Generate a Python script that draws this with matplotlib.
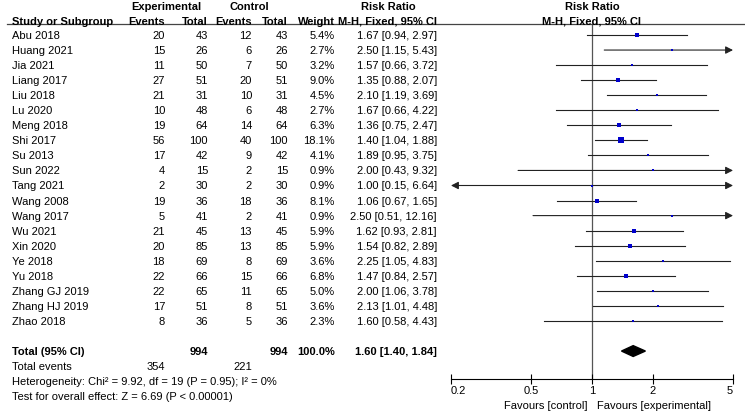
import matplotlib.pyplot as plt
import matplotlib.transforms as mtransforms
from matplotlib.patches import Polygon

plt.rcParams['font.family'] = ['Liberation Sans', 'DejaVu Sans']
plt.rcParams['font.size'] = 8

# Data
studies = ['Abu 2018', 'Huang 2021', 'Jia 2021', 'Liang 2017', 'Liu 2018', 'Lu 2020',
           'Meng 2018', 'Shi 2017', 'Su 2013', 'Sun 2022', 'Tang 2021', 'Wang 2008',
           'Wang 2017', 'Wu 2021', 'Xin 2020', 'Ye 2018', 'Yu 2018', 'Zhang GJ 2019',
           'Zhang HJ 2019', 'Zhao 2018']
exp_events = [20, 15, 11, 27, 21, 10, 19, 56, 17, 4, 2, 19, 5, 21, 20, 18, 22, 22, 17, 8]
exp_total = [43, 26, 50, 51, 31, 48, 64, 100, 42, 15, 30, 36, 41, 45, 85, 69, 66, 65, 51, 36]
ctl_events = [12, 6, 7, 20, 10, 6, 14, 40, 9, 2, 2, 18, 2, 13, 13, 8, 15, 11, 8, 5]
ctl_total = [43, 26, 50, 51, 31, 48, 64, 100, 42, 15, 30, 36, 41, 45, 85, 69, 66, 65, 51, 36]
weights = [5.4, 2.7, 3.2, 9.0, 4.5, 2.7, 6.3, 18.1, 4.1, 0.9, 0.9, 8.1, 0.9, 5.9, 5.9,
           3.6, 6.8, 5.0, 3.6, 2.3]
rr = [1.67, 2.50, 1.57, 1.35, 2.10, 1.67, 1.36, 1.40, 1.89, 2.00, 1.00, 1.06, 2.50,
      1.62, 1.54, 2.25, 1.47, 2.00, 2.13, 1.60]
rr_lo = [0.94, 1.15, 0.66, 0.88, 1.19, 0.66, 0.75, 1.04, 0.95, 0.43, 0.15, 0.67, 0.51,
         0.93, 0.82, 1.05, 0.84, 1.06, 1.01, 0.58]
rr_hi = [2.97, 5.43, 3.72, 2.07, 3.69, 4.22, 2.47, 1.88, 3.75, 9.32, 6.64, 1.65, 12.16,
         2.81, 2.89, 4.83, 2.57, 3.78, 4.48, 4.43]

total_exp, total_ctl = 994, 994
events_exp, events_ctl = 354, 221
pooled_rr, pooled_lo, pooled_hi = 1.60, 1.40, 1.84
heterogeneity = 'Heterogeneity: Chi\u00b2 = 9.92, df = 19 (P = 0.95); I\u00b2 = 0%'
overall = 'Test for overall effect: Z = 6.69 (P < 0.00001)'
ticks = [0.2, 0.5, 1, 2, 5]
xmin, xmax = 0.2, 5

W, H = 745, 414
fig = plt.figure(figsize=(W / 100, H / 100), dpi=100)

# row layout (pixels from top)
row0, step = 36, 15.05
top_px, axis_px = 25, 380
ax = fig.add_axes([451 / W, (H - axis_px) / H, 282 / W, (axis_px - top_px) / H])
ax.set_xscale('log')
ax.set_xlim(xmin, xmax)
ax.set_ylim((axis_px - row0) / step, (top_px - row0) / step)

n = len(studies)
total_row = n + 1
line_col = '#222222'

# forest plot
ax.axvline(1, color='#555555', lw=0.9, zorder=1)
for i in range(n):
    lo = max(rr_lo[i], xmin)
    hi = min(rr_hi[i], xmax)
    if rr_lo[i] < xmin and rr_hi[i] > xmax:
        style = '<|-|>,head_length=0.55,head_width=0.28'
    elif rr_hi[i] > xmax:
        style = '-|>,head_length=0.55,head_width=0.28'
    elif rr_lo[i] < xmin:
        style = '<|-,head_length=0.55,head_width=0.28'
    else:
        style = None
    if style:
        ax.annotate('', xy=(hi, i), xytext=(lo, i),
                    arrowprops=dict(arrowstyle=style, lw=0.8, color=line_col,
                                    shrinkA=0, shrinkB=0), annotation_clip=False)
    else:
        ax.plot([lo, hi], [i, i], color=line_col, lw=0.8, zorder=2)
    side = max(2.0, 1.3 * weights[i] ** 0.5)
    ax.plot(rr[i], i, marker='s', ms=side * 0.72, color='#0000cc', mew=0, zorder=3)

h = 0.36
ax.add_patch(Polygon([(pooled_lo, total_row), (pooled_rr, total_row - h),
                      (pooled_hi, total_row), (pooled_rr, total_row + h)],
                     closed=True, color='black', zorder=3))

for s in ['top', 'left', 'right']:
    ax.spines[s].set_visible(False)
ax.spines['bottom'].set_linewidth(0.8)
ax.set_yticks([])
ax.set_xticks(ticks)
ax.set_xticks([], minor=True)
ax.set_xticklabels([f'{t:g}' for t in ticks])
ax.tick_params(axis='x', direction='inout', length=7, width=0.8, pad=1, labelsize=8)
labels = ax.get_xticklabels()
labels[0].set_ha('left')
labels[-1].set_ha('right')

# favours labels
ax.annotate('Favours [control]', xy=(1, 0), xycoords=('data', 'axes fraction'),
            xytext=(-5, -26), textcoords='offset pixels', ha='right', va='center')
ax.annotate('Favours [experimental]', xy=(1, 0), xycoords=('data', 'axes fraction'),
            xytext=(5, -26), textcoords='offset pixels', ha='left', va='center')

# table text
tr = mtransforms.blended_transform_factory(fig.transFigure, ax.transData)


def put(px, row, s, ha='right', bold=False):
    ax.text(px / W, row, s, transform=tr, ha=ha, va='center', clip_on=False,
            fontweight='bold' if bold else 'normal')


hdr1 = (7 - row0) / step
hdr2 = (22 - row0) / step
put(166, hdr1, 'Experimental', ha='center', bold=True)
put(249, hdr1, 'Control', ha='center', bold=True)
put(388, hdr1, 'Risk Ratio', ha='center', bold=True)
put(592, hdr1, 'Risk Ratio', ha='center', bold=True)
put(12, hdr2, 'Study or Subgroup', ha='left', bold=True)
put(165, hdr2, 'Events', bold=True)
put(208, hdr2, 'Total', bold=True)
put(252, hdr2, 'Events', bold=True)
put(288, hdr2, 'Total', bold=True)
put(335, hdr2, 'Weight', bold=True)
put(437, hdr2, 'M-H, Fixed, 95% CI', bold=True)
put(592, hdr2, 'M-H, Fixed, 95% CI', ha='center', bold=True)

ax.plot([7 / W, 1.0], [(top_px - row0) / step] * 2, transform=tr, color='#444444',
        lw=0.9, clip_on=False)

for i in range(n):
    put(12, i, studies[i], ha='left')
    put(165, i, str(exp_events[i]))
    put(208, i, str(exp_total[i]))
    put(252, i, str(ctl_events[i]))
    put(288, i, str(ctl_total[i]))
    put(335, i, f'{weights[i]:.1f}%')
    put(437, i, f'{rr[i]:.2f} [{rr_lo[i]:.2f}, {rr_hi[i]:.2f}]')

put(12, total_row, 'Total (95% CI)', ha='left', bold=True)
put(208, total_row, str(total_exp), bold=True)
put(288, total_row, str(total_ctl), bold=True)
put(335, total_row, '100.0%', bold=True)
put(437, total_row, f'{pooled_rr:.2f} [{pooled_lo:.2f}, {pooled_hi:.2f}]', bold=True)
put(12, total_row + 1, 'Total events', ha='left')
put(165, total_row + 1, str(events_exp))
put(252, total_row + 1, str(events_ctl))
put(12, total_row + 2, heterogeneity, ha='left')
put(12, total_row + 3, overall, ha='left')

fig.savefig('out.png', dpi=100, facecolor='white')
